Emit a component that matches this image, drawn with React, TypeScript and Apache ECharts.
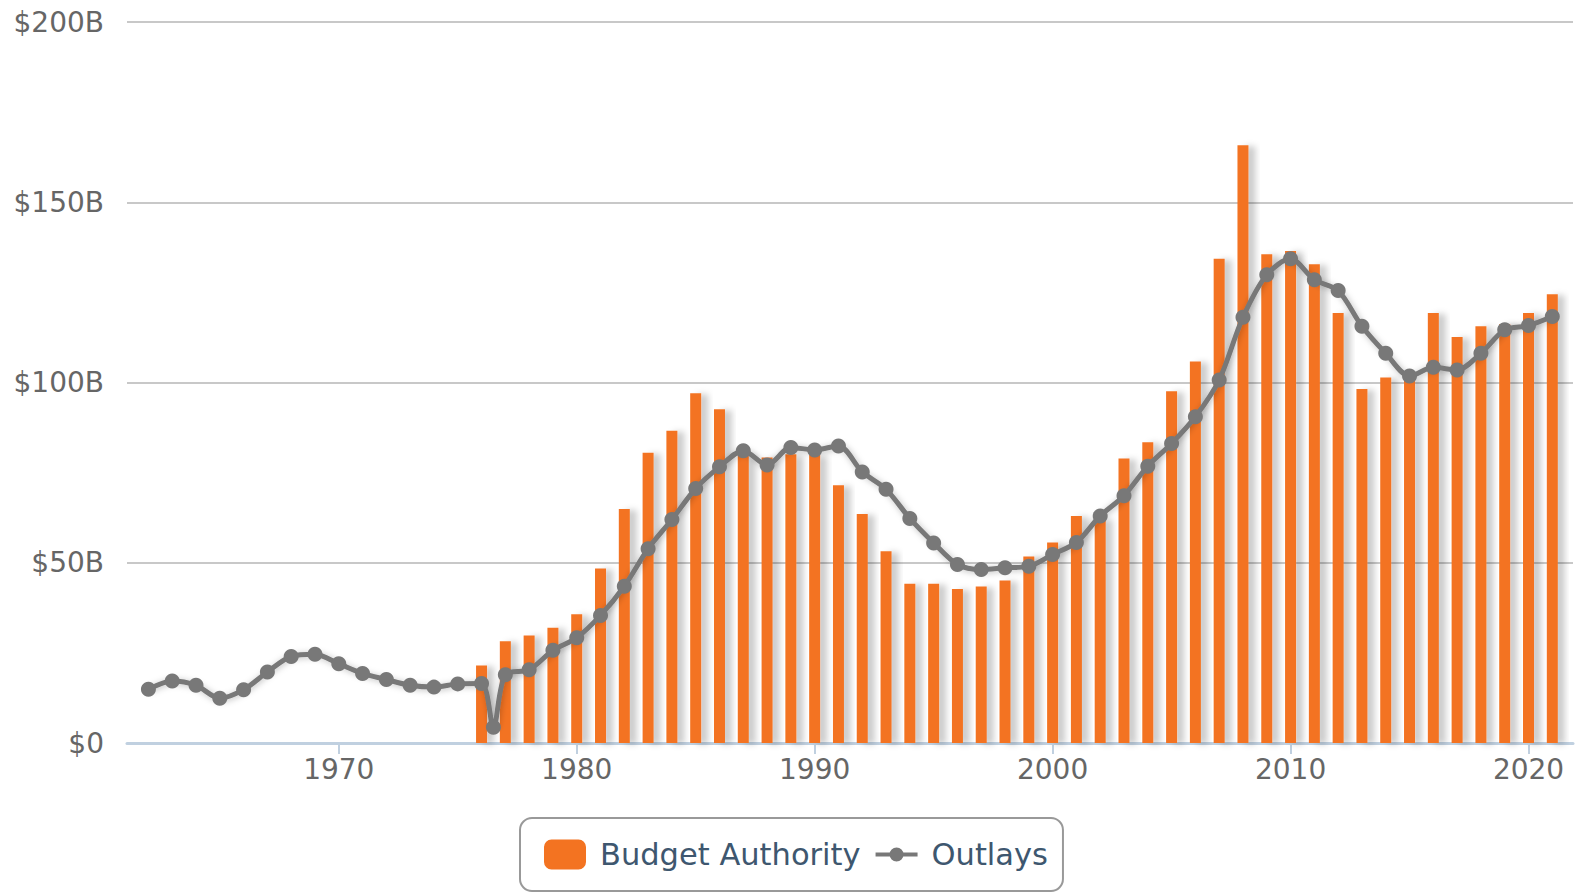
import React, { useEffect, useRef } from 'react';
import * as echarts from 'echarts';

// Fiscal years for outlays (1976.5 = transition quarter)
const outlayYears = [
  1962, 1963, 1964, 1965, 1966, 1967, 1968, 1969, 1970, 1971, 1972, 1973, 1974, 1975, 1976, 1976.5,
  1977, 1978, 1979, 1980, 1981, 1982, 1983, 1984, 1985, 1986, 1987, 1988, 1989, 1990, 1991, 1992,
  1993, 1994, 1995, 1996, 1997, 1998, 1999, 2000, 2001, 2002, 2003, 2004, 2005, 2006, 2007, 2008,
  2009, 2010, 2011, 2012, 2013, 2014, 2015, 2016, 2017, 2018, 2019, 2020, 2021,
];
// Outlays, $ billions
const outlays = [
  14.9, 17.2, 16.0, 12.4, 14.8, 19.7, 24.0, 24.6, 22.0, 19.3, 17.6, 16.0, 15.5, 16.4, 16.5, 4.4,
  18.9, 20.3, 25.7, 29.2, 35.4, 43.5, 53.9, 62.0, 70.6, 76.6, 81.1, 77.1, 82.0, 81.3, 82.4, 75.2,
  70.4, 62.3, 55.5, 49.5, 48.1, 48.6, 49.0, 52.3, 55.6, 63.0, 68.6, 76.8, 83.1, 90.5, 100.7, 118.1,
  129.9, 134.3, 128.5, 125.5, 115.6, 108.1, 101.8, 104.2, 103.5, 108.1, 114.6, 115.8, 118.3,
];

const budgetYears = [
  1976, 1977, 1978, 1979, 1980, 1981, 1982, 1983, 1984, 1985, 1986, 1987, 1988, 1989, 1990, 1991,
  1992, 1993, 1994, 1995, 1996, 1997, 1998, 1999, 2000, 2001, 2002, 2003, 2004, 2005, 2006, 2007,
  2008, 2009, 2010, 2011, 2012, 2013, 2014, 2015, 2016, 2017, 2018, 2019, 2020, 2021,
];
// Budget authority, $ billions
const budgetAuthority = [
  21.5, 28.2, 29.8, 32.0, 35.7, 48.4, 64.9, 80.5, 86.6, 97.0, 92.6, 79.9, 79.2, 80.1, 79.9, 71.5,
  63.5, 53.2, 44.2, 44.2, 42.7, 43.4, 45.1, 51.7, 55.6, 63.0, 62.3, 78.9, 83.4, 97.6, 105.8, 134.3,
  165.8, 135.6, 136.5, 132.8, 119.3, 98.2, 101.4, 101.0, 119.3, 112.6, 115.6, 116.2, 119.3, 124.5,
];

const xTickYears = [1970, 1980, 1990, 2000, 2010, 2020];

const lineLegendIcon =
  'path://M0,5L14.5,5L14.5,9L0,9Z M27.5,5L42,5L42,9L27.5,9Z M14,7A7,7 0 1,1 28,7A7,7 0 1,1 14,7Z';

export default function App() {
  const ref = useRef<HTMLDivElement>(null);
  useEffect(() => {
    const chart = echarts.init(ref.current!, null, { renderer: 'svg' });
    chart.setOption({
      animation: false,
      textStyle: { fontFamily: 'DejaVu Sans' },
      grid: { left: 127, right: 8, top: 22, bottom: 150, containLabel: false },
      xAxis: {
        type: 'value',
        min: 1961.1,
        max: 2021.87,
        axisLine: { show: true, lineStyle: { color: '#C0D0E0', width: 3 } },
        axisTick: {
          show: true,
          customValues: xTickYears,
          length: 11,
          lineStyle: { color: '#C0D0E0', width: 2 },
        },
        axisLabel: {
          customValues: xTickYears,
          fontSize: 28,
          color: '#666666',
          margin: 12,
          formatter: (v: number) => String(v),
        },
        splitLine: { show: false },
      },
      yAxis: {
        type: 'value',
        min: 0,
        max: 200,
        interval: 50,
        axisLine: { show: false },
        axisTick: { show: false },
        axisLabel: {
          fontSize: 28,
          color: '#666666',
          margin: 23,
          formatter: (v: number) => (v === 0 ? '$0' : '$' + v + 'B'),
        },
        splitLine: { lineStyle: { color: '#C8C8C8', width: 2 } },
      },
      legend: {
        left: 520,
        top: 818,
        orient: 'horizontal',
        padding: [21, 15, 21, 24],
        itemWidth: 42,
        itemHeight: 30,
        itemGap: 15,
        borderColor: '#999999',
        borderWidth: 2,
        borderRadius: 12,
        selectedMode: false,
        symbolKeepAspect: true,
        textStyle: { fontSize: 30.5, color: '#3E576F', fontFamily: 'DejaVu Sans', padding: [0, 0, 0, 9] },
        data: [
          { name: 'Budget Authority', icon: 'roundRect' },
          {
            name: 'Outlays',
            icon: lineLegendIcon,
            itemStyle: { color: '#787878', borderWidth: 0 },
          },
        ],
      },
      series: [
        {
          name: 'Budget Authority',
          type: 'bar',
          data: budgetYears.map((y, i) => [y, budgetAuthority[i]]),
          barWidth: 11,
          itemStyle: {
            color: '#F37321',
            shadowColor: 'rgba(0,0,0,0.2)',
            shadowBlur: 6,
            shadowOffsetX: 7,
            shadowOffsetY: 1,
          },
          z: 2,
        },
        {
          name: 'Outlays',
          type: 'line',
          data: outlayYears.map((y, i) => [y, outlays[i]]),
          smooth: 0.3,
          symbol: 'circle',
          symbolSize: 15,
          lineStyle: {
            color: '#787878',
            width: 5,
            shadowColor: 'rgba(0,0,0,0.25)',
            shadowBlur: 6,
            shadowOffsetX: 1,
            shadowOffsetY: 1,
          },
          itemStyle: { color: '#787878' },
          z: 3,
        },
      ],
    });
    return () => chart.dispose();
  }, []);
  return (
    <div
      ref={ref}
      style={{ position: 'fixed', left: 0, top: 0, width: 1581, height: 893, background: '#fff' }}
    />
  );
}
